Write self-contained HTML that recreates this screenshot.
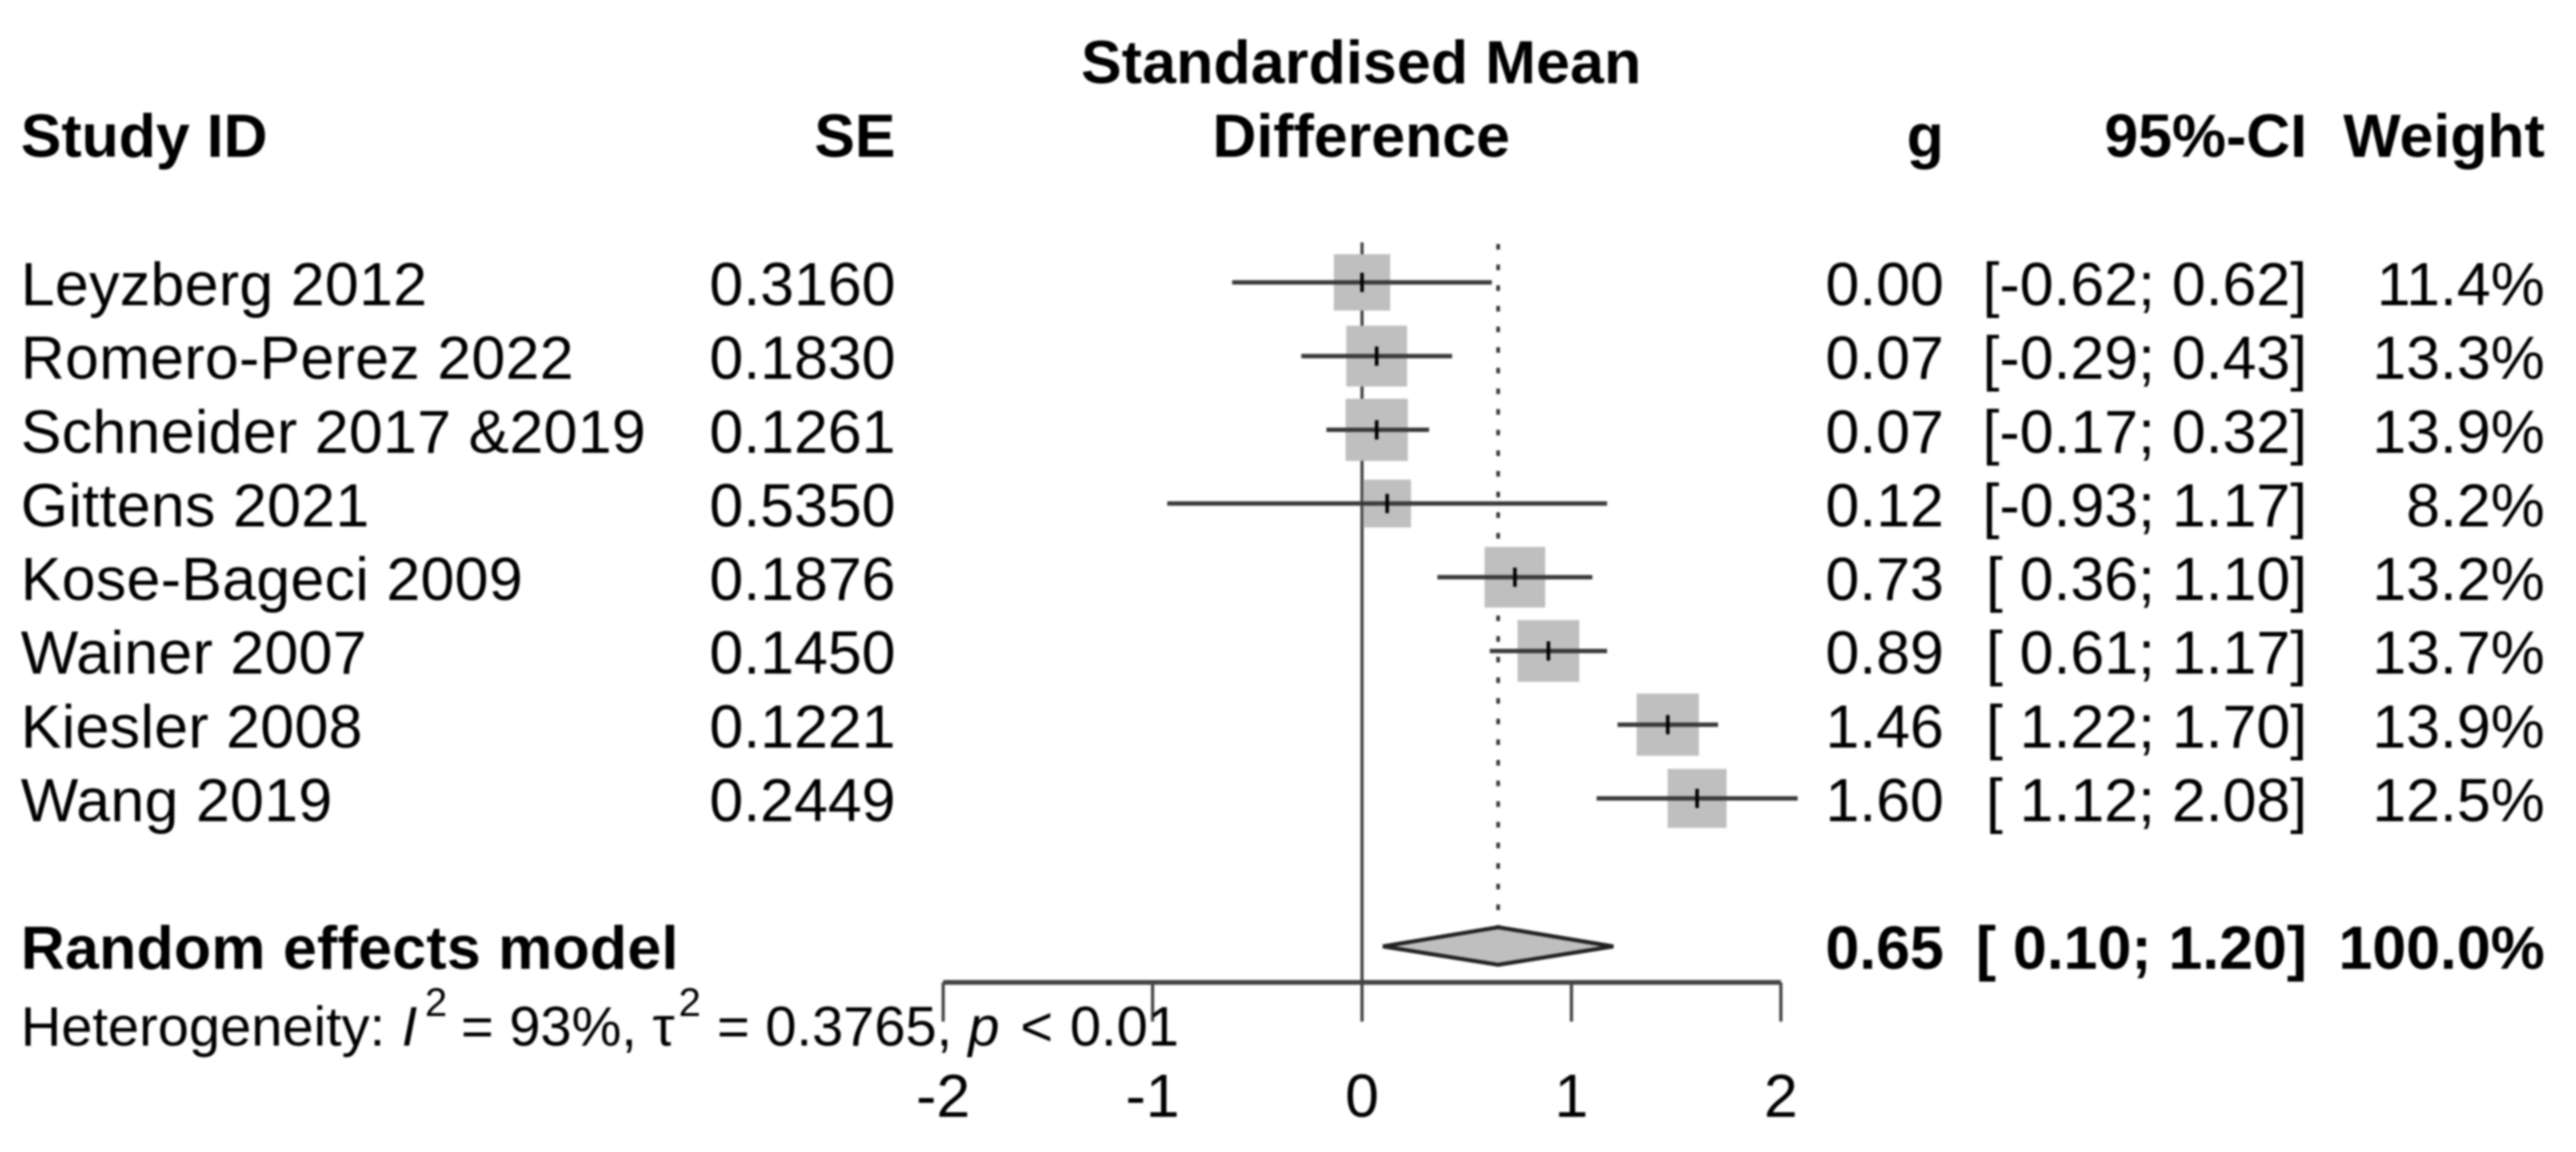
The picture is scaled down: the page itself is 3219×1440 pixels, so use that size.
<!DOCTYPE html>
<html lang="en">
<head>
<meta charset="utf-8">
<title>Forest plot: Standardised Mean Difference</title>
<style>
  html, body { margin: 0; padding: 0; background: #fff; }
  body { width: 3219px; height: 1440px; overflow: hidden; }
  svg { display: block; filter: blur(1.2px); }
  text { font-family: "Liberation Sans", sans-serif; font-size: 76px; fill: #000; }
  .bold { font-weight: 700; fill: #000; }
  .end { text-anchor: end; }
  .mid { text-anchor: middle; }
  .name { letter-spacing: 0.4px; }
</style>
</head>
<body>
<svg id="forest" xmlns="http://www.w3.org/2000/svg" width="3219" height="1440" viewBox="0 0 3219 1440">
  <rect x="0" y="0" width="3219" height="1440" fill="#fff"/>
  <g id="guides"></g>
  <g id="marks"></g>
  <g id="rows"></g>
  <g id="axis"></g>
  <g>
    <text class="bold mid" x="1701" y="104" style="letter-spacing:0.2px">Standardised Mean</text>
    <text class="bold mid" x="1701" y="196">Difference</text>
    <text class="bold" x="26" y="196">Study ID</text>
    <text class="bold end" x="1119" y="196">SE</text>
    <text class="bold end" x="2429" y="196">g</text>
    <text class="bold end" x="2883" y="196">95%-CI</text>
    <text class="bold end" x="3180" y="196">Weight</text>
  </g>
  <g>
    <text class="bold" x="26" y="1211" style="letter-spacing:0.35px">Random effects model</text>
    <text class="bold end" x="2429" y="1211">0.65</text>
    <text class="bold end" x="2883" y="1211">[ 0.10; 1.20]</text>
    <text class="bold end" x="3180" y="1211">100.0%</text>
  </g>
  <text y="1307" style="font-size:70px"><tspan x="26">Heterogeneity:</tspan><tspan x="502" font-style="italic">I</tspan><tspan x="531" dy="-37" style="font-size:50px">2</tspan><tspan x="576" dy="37">= 93%, τ</tspan><tspan x="848" dy="-37" style="font-size:50px">2</tspan><tspan x="896" dy="37">= 0.3765,</tspan><tspan x="1210" font-style="italic">p</tspan><tspan x="1275">&lt;</tspan><tspan x="1337">0.01</tspan></text>
</svg>
<script>
const studies = ["Leyzberg 2012", "Romero-Perez 2022", "Schneider 2017 &2019", "Gittens 2021", "Kose-Bageci 2009", "Wainer 2007", "Kiesler 2008", "Wang 2019"];
const seValues = ["0.3160", "0.1830", "0.1261", "0.5350", "0.1876", "0.1450", "0.1221", "0.2449"];
const effects = [0.00, 0.07, 0.07, 0.12, 0.73, 0.89, 1.46, 1.60];
const ciLower = [-0.62, -0.29, -0.17, -0.93, 0.36, 0.61, 1.22, 1.12];
const ciUpper = [0.62, 0.43, 0.32, 1.17, 1.10, 1.17, 1.70, 2.08];
const weights = [11.4, 13.3, 13.9, 8.2, 13.2, 13.7, 13.9, 12.5];
const pooledEffect = [0.65];
const pooledLower = [0.10];
const pooledUpper = [1.20];
const axisTicks = [-2, -1, 0, 1, 2];
const tickLabels = ["-2", "-1", "0", "1", "2"];

const NS = "http://www.w3.org/2000/svg";
const xScale = function (v) { return 1702 + 261.7 * v; };
const yScale = function (i) { return 353 + 92.14 * i; };
const squareSize = function (w) { return 20.85 * Math.sqrt(w); };
const fmtSigned = function (v) { return (v < 0 ? "-" : " ") + Math.abs(v).toFixed(2); };

function make(tag, parentId, attrs, content) {
  const el = document.createElementNS(NS, tag);
  Object.keys(attrs).forEach(function (k) { el.setAttribute(k, attrs[k]); });
  if (content !== undefined) { el.textContent = content; }
  document.getElementById(parentId).appendChild(el);
  return el;
}

const AXIS_Y = 1228, TICK_END = 1277, GUIDE_TOP = 303, LINE = "#3a3a3a";

/* reference lines */
const zeroLine = make("line", "guides", { x1: xScale(0), x2: xScale(0), y1: GUIDE_TOP, y2: AXIS_Y, stroke: "#444", "stroke-width": 4 });


const pooledLine = make("line", "guides", { x1: xScale(pooledEffect[0]), x2: xScale(pooledEffect[0]), y1: 305, y2: 1157, stroke: "#333", "stroke-width": 4.5, "stroke-dasharray": "7 18.8" });



/* study rows and marks */
studies.forEach(function (name, i) {
  const y = yScale(i), base = y + 28.5, s = squareSize(weights[i]), cx = xScale(effects[i]);
  const sq = make("rect", "marks", { x: cx - s / 2, y: y - s / 2, width: s, height: s, fill: "#bfbfbf" });
  
  
  const ci = make("line", "marks", { x1: xScale(ciLower[i]), x2: xScale(ciUpper[i]), y1: y, y2: y, stroke: LINE, "stroke-width": 5.5 });
  
  
  const tk = make("line", "marks", { x1: cx, x2: cx, y1: y - 12, y2: y + 12, stroke: "#000", "stroke-width": 4.5 });
  
  

  const t1 = make("text", "rows", { x: 26, y: base, class: "name" }, name);
  
  
  const t2 = make("text", "rows", { x: 1119, y: base, class: "end" }, seValues[i]);
  
  
  const t3 = make("text", "rows", { x: 2429, y: base, class: "end" }, effects[i].toFixed(2));
  
  
  const t4 = make("text", "rows", { x: 2883, y: base, class: "end", "xml:space": "preserve" }, "[" + fmtSigned(ciLower[i]) + "; " + ciUpper[i].toFixed(2) + "]");
  
  
  const t5 = make("text", "rows", { x: 3180, y: base, class: "end" }, weights[i].toFixed(1) + "%");
  
  
});

/* pooled diamond */
const dl = xScale(pooledLower[0]), dr = xScale(pooledUpper[0]), dc = xScale(pooledEffect[0]);
const diamond = make("polygon", "marks", { points: dl + ",1183 " + dc + ",1159 " + dr + ",1183 " + dc + ",1206", fill: "#bfbfbf", stroke: "#222", "stroke-width": 5 });



/* axis */
const axisLine = make("line", "axis", { x1: xScale(axisTicks[0]), x2: xScale(axisTicks[axisTicks.length - 1]), y1: AXIS_Y, y2: AXIS_Y, stroke: "#444", "stroke-width": 6 });


axisTicks.forEach(function (t, i) {
  const tick = make("line", "axis", { x1: xScale(t), x2: xScale(t), y1: AXIS_Y, y2: TICK_END, stroke: "#444", "stroke-width": 4 });
  
  
  const label = make("text", "axis", { x: xScale(t), y: 1396, class: "mid" }, tickLabels[i]);
  
  
});
</script>
</body>
</html>
